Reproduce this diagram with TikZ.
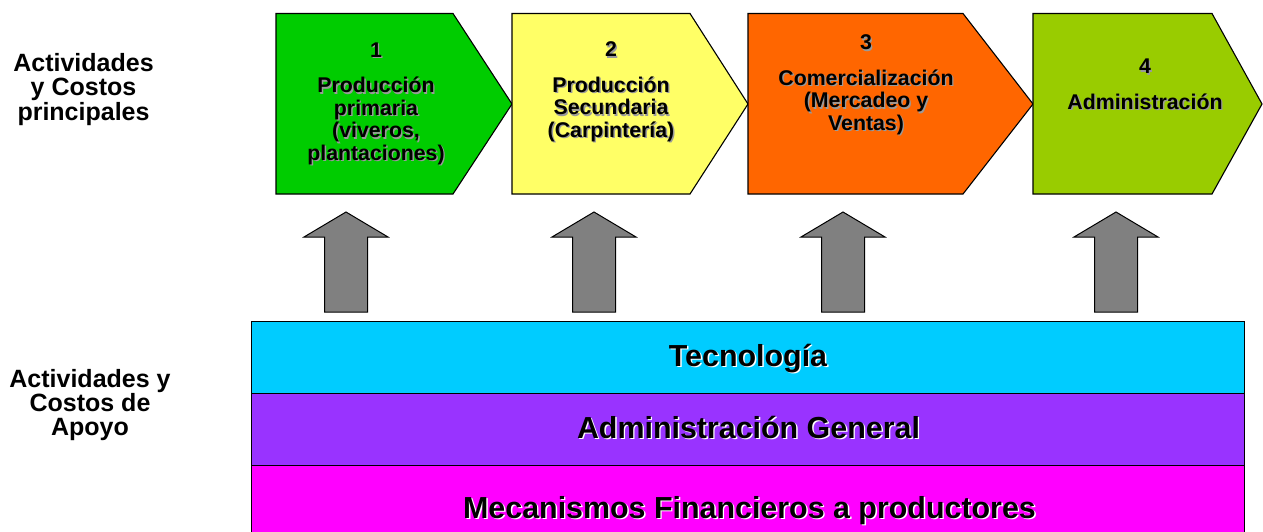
\documentclass[tikz,border=0pt]{standalone}
\usepackage{fontspec}
\setmainfont{Liberation Sans}
\definecolor{stageA}{HTML}{00CC00}
\definecolor{stageB}{HTML}{FFFF66}
\definecolor{stageC}{HTML}{FF6600}
\definecolor{stageD}{HTML}{99CC00}
\definecolor{barA}{HTML}{00CCFF}
\definecolor{barB}{HTML}{9933FF}
\definecolor{barC}{HTML}{FF00FF}
\definecolor{liftgray}{HTML}{808080}
\definecolor{shadegray}{HTML}{9A9A9A}
\newcommand\chevfont{\fontsize{21.3pt}{22.5pt}\selectfont\bfseries\lineskiplimit=-50pt\lineskip=0pt}
\newcommand\sidefont{\fontsize{25pt}{24.3pt}\selectfont\bfseries\lineskiplimit=-50pt\lineskip=0pt}
\newcommand\barfont{\fontsize{30.4pt}{30pt}\selectfont\bfseries}
% text drawn twice: an offset shadow copy, then the text itself
\newcommand\shadowtext[5]{%
  \node[#1, text=#4, shift={(1.4,1.4)}] (#2-shadow) at #3 {#5};
  \node[#1] (#2) at #3 {#5};}
\begin{document}
\begin{tikzpicture}[x=1pt,y=-1pt,
  stagebox/.style={draw=black, line width=1.1pt, line join=miter},
  liftarrow/.style={draw=black, line width=1pt, fill=liftgray},
  supportbar/.style={draw=black, line width=1pt},
  stagetext/.style={font=\chevfont, align=center, inner sep=0pt, anchor=center},
  bartext/.style={font=\barfont, inner sep=0pt, anchor=base},
  sidetext/.style={font=\sidefont, align=center, inner sep=0pt, anchor=center}]
\useasboundingbox (0,0) rectangle (1263,532);

% primary value-chain stages
\draw[stagebox, fill=stageA] (276,13.5) -- (453,13.5) -- (512,104) -- (453,194) -- (276,194) -- cycle;
\draw[stagebox, fill=stageB] (512,13.5) -- (690,13.5) -- (748,104) -- (690,194) -- (512,194) -- cycle;
\draw[stagebox, fill=stageC] (748,13.5) -- (963,13.5) -- (1033,104) -- (963,194) -- (748,194) -- cycle;
\draw[stagebox, fill=stageD] (1033,13.5) -- (1212,13.5) -- (1262,104) -- (1212,194) -- (1033,194) -- cycle;

\shadowtext{stagetext}{s1}{(376,103.5)}{shadegray}{1\\[13pt]Producción\\primaria\\(viveros,\\plantaciones)}
\shadowtext{stagetext}{s2}{(611,92)}{shadegray}{2\\[13pt]Producción\\Secundaria\\(Carpintería)}
\shadowtext{stagetext}{s3}{(866,85)}{shadegray}{3\\[13pt]Comercialización\\(Mercadeo y\\Ventas)}
\shadowtext{stagetext}{s4}{(1145,84.5)}{shadegray}{4\\[13pt]Administración}

% support arrows
\foreach \cx/\nm in {346/a1, 594/a2, 843/a3, 1116/a4}{
  \draw[liftarrow] (\cx,212) -- ++(42,25) -- ++(-20.5,0) -- ++(0,75)
    -- ++(-43,0) -- ++(0,-75) -- ++(-20.5,0) -- cycle;
}

% support activities
\draw[supportbar, fill=barA] (251,321) rectangle (1244,393);
\draw[supportbar, fill=barB] (251,393) rectangle (1244,465);
\draw[supportbar, fill=barC] (251,465) rectangle (1244,540);

\shadowtext{bartext}{b1}{(748,366)}{white}{Tecnología}
\shadowtext{bartext}{b2}{(748.5,438)}{white}{Administración General}
\shadowtext{bartext}{b3}{(749.5,518)}{white}{Mecanismos Financieros a productores}

% row labels
\node[sidetext] (primaryLabel) at (83.5,89.5) {Actividades\\y Costos\\principales};
\node[sidetext] (supportLabel) at (90,405) {Actividades y\\Costos de\\Apoyo};
\end{tikzpicture}
\end{document}
